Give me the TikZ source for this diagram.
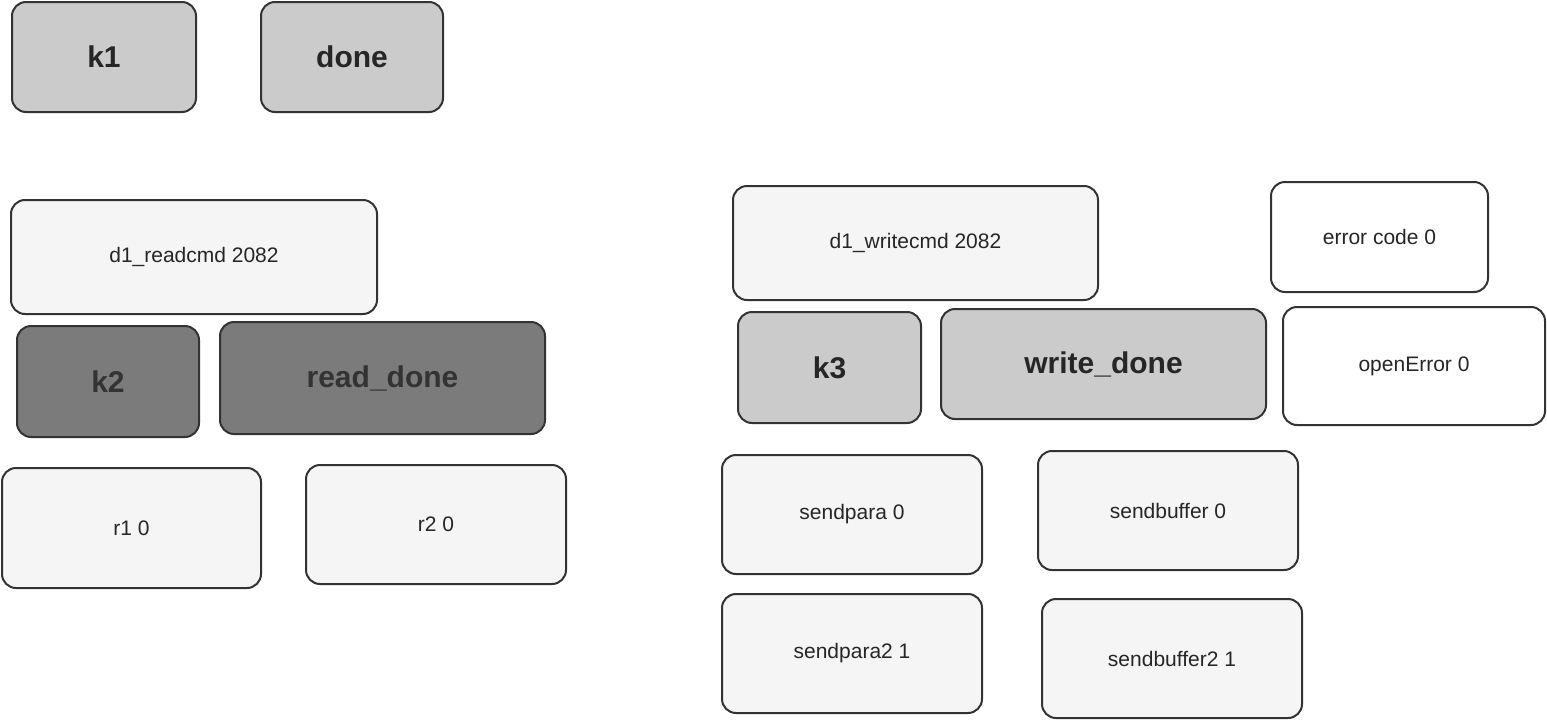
\documentclass[tikz,border=0pt]{standalone}
\usepackage{fontspec}
\setmainfont{Liberation Sans}
\definecolor{midgray}{HTML}{CBCBCB}
\definecolor{darkgray}{HTML}{7B7B7B}
\definecolor{palegray}{HTML}{F5F5F5}
\definecolor{edge}{HTML}{333333}
\begin{document}
\begin{tikzpicture}[x=1pt,y=-1pt,
    box/.style={draw=edge,line width=2pt,rounded corners=14pt,inner sep=0pt},
    bigbox/.style={box,font=\fontsize{30}{36}\selectfont\bfseries,text=black!85},
    smallbox/.style={box,font=\fontsize{21}{25}\selectfont,text=black!85},
    gbox/.style={bigbox,fill=midgray},
    dbox/.style={bigbox,fill=darkgray,text=black!80},
    lbox/.style={smallbox,fill=palegray},
    wbox/.style={smallbox,fill=white}]
      \useasboundingbox (0,0) rectangle (1547,720);
      % left column
      \node[gbox,minimum width=184pt,minimum height=110pt] (k1) at (104,57) {k1};
      \node[gbox,minimum width=182pt,minimum height=110pt] (done) at (352,57) {done};
      \node[lbox,minimum width=366pt,minimum height=114pt] (readcmd) at (194,257) {d1\_readcmd 2082};
      \node[dbox,minimum width=182pt,minimum height=111pt] (k2) at (108,381.5) {k2};
      \node[dbox,minimum width=325pt,minimum height=112pt] (readdone) at (382.5,378) {read\_done};
      \node[lbox,minimum width=259pt,minimum height=120pt] (r1) at (131.5,528) {r1 0};
      \node[lbox,minimum width=260pt,minimum height=119pt] (r2) at (436,524.5) {r2 0};
      % right column
      \node[lbox,minimum width=365pt,minimum height=114pt] (writecmd) at (915.5,243) {d1\_writecmd 2082};
      \node[wbox,minimum width=217pt,minimum height=110pt] (errcode) at (1379.5,237) {error code 0};
      \node[gbox,minimum width=183pt,minimum height=111pt] (k3) at (829.5,367.5) {k3};
      \node[gbox,minimum width=325pt,minimum height=110pt] (writedone) at (1103.5,364) {write\_done};
      \node[wbox,minimum width=262pt,minimum height=118pt] (openerr) at (1414,366) {openError 0};
      \node[lbox,minimum width=260pt,minimum height=119pt] (sendpara) at (852,514.5) {sendpara 0};
      \node[lbox,minimum width=260pt,minimum height=119pt] (sendbuf) at (1168,510.5) {sendbuffer 0};
      \node[lbox,minimum width=260pt,minimum height=119pt] (sendparab) at (852,653.5) {sendpara2 1};
      \node[lbox,minimum width=260pt,minimum height=119pt] (sendbufb) at (1172,658.5) {sendbuffer2 1};
    \end{tikzpicture}
\end{document}
